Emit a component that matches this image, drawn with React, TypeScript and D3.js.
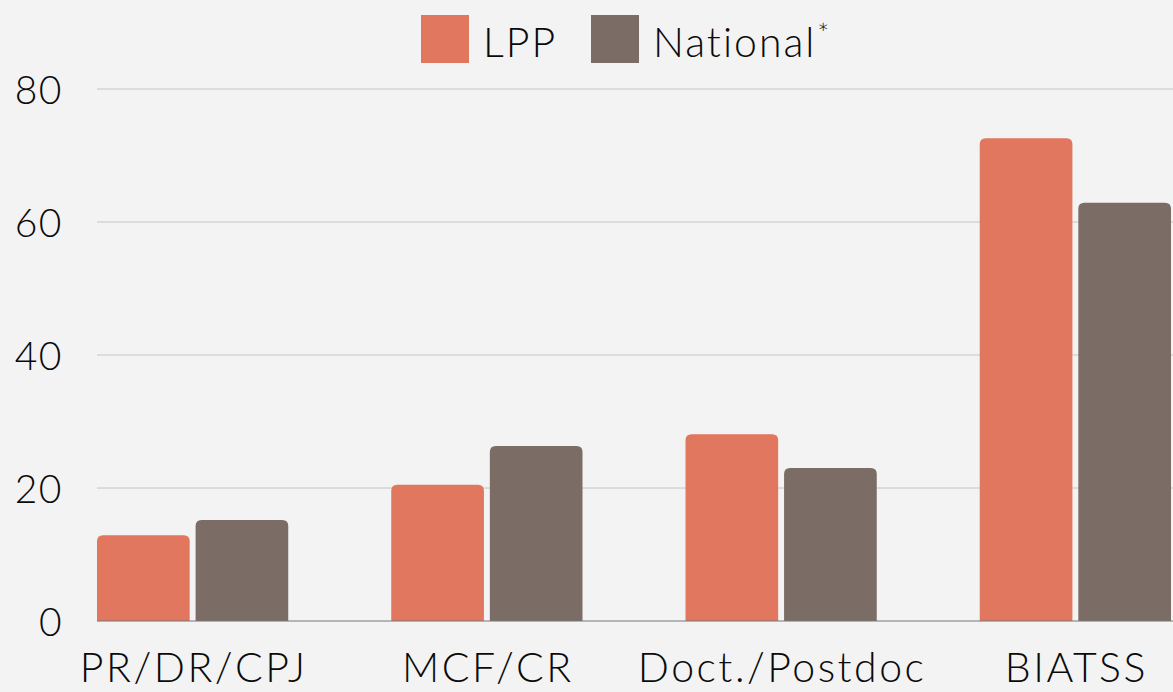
import React, { useRef, useEffect } from "react";
import * as d3 from "d3";

const categories = ["PR/DR/CPJ", "MCF/CR", "Doct./Postdoc", "BIATSS"];
const seriesNames = ["LPP", "National*"];
const lppValues = [12.9, 20.5, 28.1, 72.6];
const nationalValues = [15.2, 26.3, 23.0, 62.9];
const yTicks = [0, 20, 40, 60, 80];
const colors = ["#e1775e", "#7b6d65"];

const W = 1173;
const H = 692;
const FONT = "Lato, 'Open Sans', sans-serif";

// bar with rounded top corners only
function topRounded(x: number, y: number, w: number, h: number, r: number) {
  const rr = Math.min(r, w / 2, h);
  return `M${x},${y + h}V${y + rr}Q${x},${y} ${x + rr},${y}H${x + w - rr}Q${x + w},${y} ${x + w},${y + rr}V${y + h}Z`;
}

export default function App() {
  const svgRef = useRef<SVGSVGElement>(null);

  useEffect(() => {
    document.body.style.margin = "0";
    const svg = d3.select(svgRef.current);
    svg.selectAll("*").remove();

    const y = d3.scaleLinear().domain([0, 80]).range([621, 89]);
    const x0 = d3.scaleBand().domain(categories).range([97, 1171]).paddingInner(0.35).paddingOuter(0);
    const x1 = d3.scaleBand().domain(seriesNames).range([0, x0.bandwidth()]).paddingInner(0.06);

    svg.append("rect").attr("width", W).attr("height", H).attr("fill", "#f3f3f3");

    // gridlines
    svg.append("g")
      .selectAll("line")
      .data(yTicks.filter(t => t > 0))
      .join("line")
      .attr("x1", 97)
      .attr("x2", W)
      .attr("y1", d => y(d))
      .attr("y2", d => y(d))
      .attr("stroke", "#c4c4c4")
      .attr("stroke-width", 1);

    // y labels
    svg.append("g")
      .selectAll("text")
      .data(yTicks)
      .join("text")
      .attr("x", 63)
      .attr("y", d => y(d) + 1)
      .attr("dy", "0.36em")
      .attr("text-anchor", "end")
      .attr("font-family", FONT)
      .attr("font-weight", 300)
      .attr("font-size", 39)
      .attr("letter-spacing", 1.5)
      .attr("fill", "#0a0a0a")
      .text(d => d);

    const data = categories.map((c, i) => ({ cat: c, vals: [lppValues[i], nationalValues[i]] }));

    svg.append("g")
      .selectAll("g")
      .data(data)
      .join("g")
      .attr("transform", d => `translate(${x0(d.cat)},0)`)
      .selectAll("path")
      .data(d => d.vals.map((v, i) => ({ v, s: seriesNames[i], i })))
      .join("path")
      .attr("d", d => topRounded(x1(d.s)!, y(d.v), x1.bandwidth(), y(0) - y(d.v), 6))
      .attr("fill", d => colors[d.i]);

    // baseline
    svg.append("line")
      .attr("x1", 97).attr("x2", W)
      .attr("y1", y(0)).attr("y2", y(0))
      .attr("stroke", "#777").attr("stroke-width", 1);

    // category labels
    svg.append("g")
      .selectAll("text")
      .data(categories)
      .join("text")
      .attr("x", d => x0(d)! + x0.bandwidth() / 2 + 1)
      .attr("y", 682)
      .attr("text-anchor", "middle")
      .attr("font-family", FONT)
      .attr("font-weight", 300)
      .attr("font-size", 41)
      .attr("letter-spacing", 2.5)
      .attr("fill", "#0a0a0a")
      .text(d => d);

    // legend
    const legendX = [421, 591];
    const lg = svg.append("g")
      .selectAll("g")
      .data(seriesNames)
      .join("g")
      .attr("transform", (d, i) => `translate(${legendX[i]},15)`);
    lg.append("rect").attr("width", 48).attr("height", 48).attr("fill", (d, i) => colors[i]);
    lg.append("text")
      .attr("x", 62)
      .attr("y", 42)
      .attr("font-family", FONT)
      .attr("font-weight", 300)
      .attr("font-size", 41)
      .attr("letter-spacing", 2)
      .attr("fill", "#0a0a0a")
      .each(function (d) {
        const t = d3.select(this);
        if (d.endsWith("*")) {
          t.append("tspan").text(d.slice(0, -1));
          t.append("tspan").attr("font-size", 28).attr("dy", "-0.5em").attr("dx", 1).text("*");
        } else {
          t.text(d);
        }
      });
  }, []);

  return (
    <svg ref={svgRef} width={W} height={H} style={{ position: "absolute", left: 0, top: 0, display: "block" }} />
  );
}
